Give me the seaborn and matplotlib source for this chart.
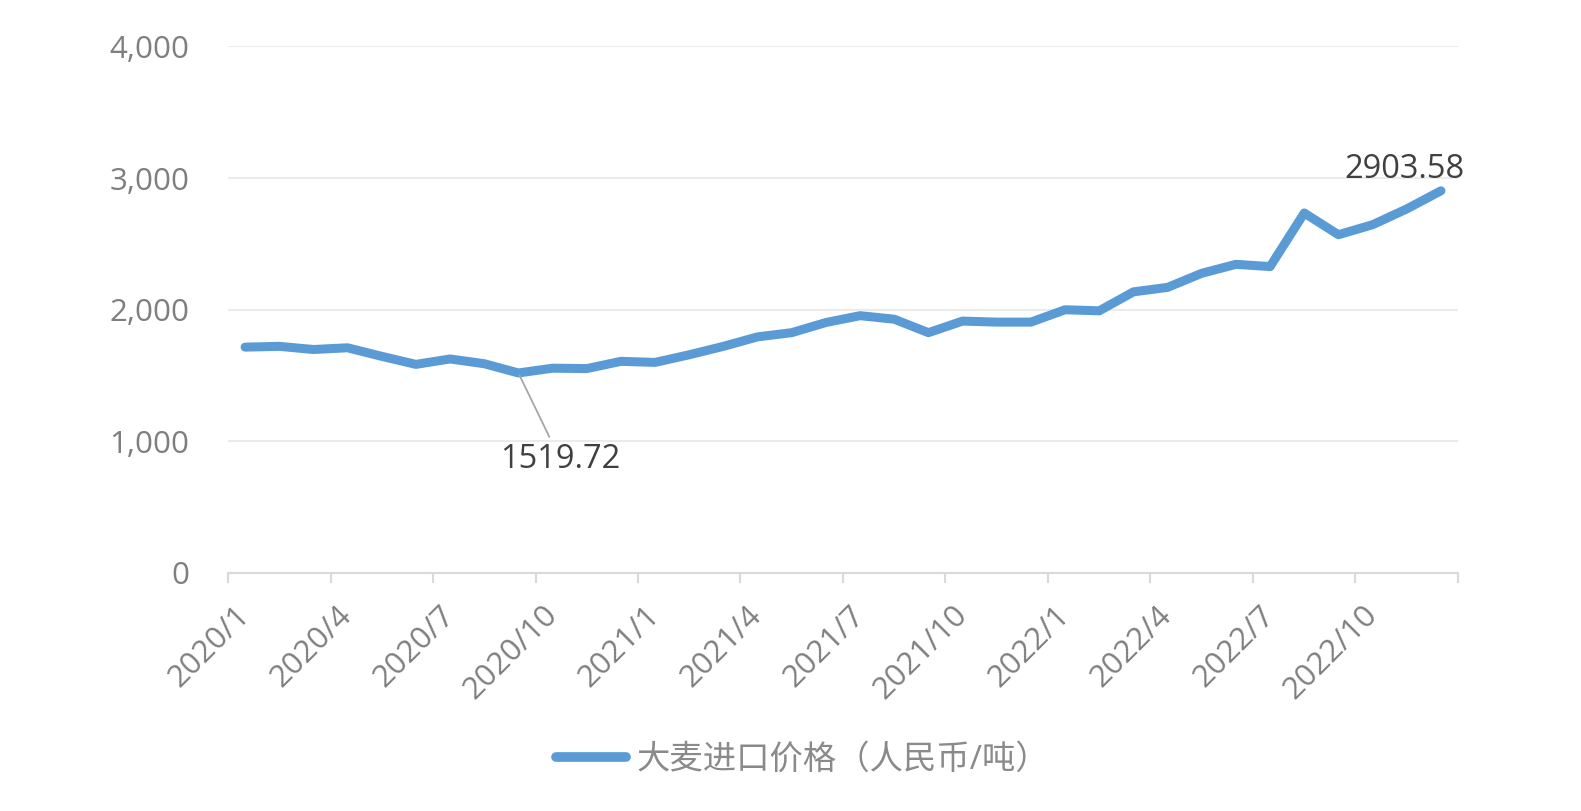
import numpy as np
import pandas as pd
import matplotlib
matplotlib.use("Agg")
import matplotlib.pyplot as plt
import seaborn as sns
from matplotlib.ticker import FixedLocator, FuncFormatter

months = [f"{y}/{m}" for y in (2020, 2021, 2022) for m in range(1, 13)]
prices = [1716, 1722, 1698, 1711, 1646, 1585, 1626, 1590, 1519.72, 1556, 1553, 1608,
          1600, 1658, 1722, 1794, 1826, 1903, 1955, 1928, 1826, 1914, 1906, 1906,
          2000, 1992, 2136, 2170, 2277, 2345, 2328, 2735, 2570, 2646, 2766, 2903.58]
series_name = "大麦进口价格（人民币/吨）"
y_ticks = [0, 1000, 2000, 3000, 4000]

sns.set_theme(style="white")
plt.rcParams['font.family'] = ['Open Sans', 'Noto Sans CJK SC', 'DejaVu Sans']

df = pd.DataFrame({"idx": np.arange(len(months)), "price": prices, "series": series_name})

W, H = 1581, 811
fig = plt.figure(figsize=(W / 100, H / 100), dpi=100)
ax = fig.add_axes([228 / W, 1 - 573 / H, (1458 - 228) / W, (573 - 46.5) / H])

sns.lineplot(data=df, x="idx", y="price", ax=ax, color="#5B9BD5", linewidth=6.5,
             solid_capstyle="round", solid_joinstyle="round", label=series_name)

ax.set_xlim(-0.5, len(months) - 0.5)
ax.set_ylim(0, 4000)
ax.set_xlabel("")
ax.set_ylabel("")

ax.yaxis.set_major_locator(FixedLocator(y_ticks))
ax.yaxis.set_major_formatter(FuncFormatter(lambda v, p: f"{int(v):,}"))
ax.grid(axis="y", color="#EBEBEB", linewidth=1.5)
ax.tick_params(axis="y", length=0, pad=28, labelsize=22.5, labelcolor="#7F7F7F")

major = list(range(0, len(months), 3))
ax.set_xticks(major)
ax.set_xticklabels([months[i] for i in major], rotation=45, ha="right",
                   rotation_mode="anchor", va="center")
ax.set_xticks(np.arange(-0.5, len(months), 3).tolist() + [len(months) - 0.5], minor=True)
ax.tick_params(axis="x", which="major", length=0, pad=27, labelsize=22.5, labelcolor="#7F7F7F")
ax.tick_params(axis="x", which="minor", length=7, width=1.5, color="#D9D9D9", bottom=True)

for s in ["top", "right", "left"]:
    ax.spines[s].set_visible(False)
ax.spines["bottom"].set_color("#D9D9D9")
ax.spines["bottom"].set_linewidth(1.5)

# annotations
imin = int(np.argmin(prices))
ax.annotate(f"{prices[imin]:.2f}", xy=(imin, prices[imin]), xytext=(30, -62),
            textcoords="offset points", ha="center", va="center", fontsize=23.5,
            color="#404040",
            arrowprops=dict(arrowstyle="-", color="#A6A6A6", lw=1.3, shrinkA=2, shrinkB=2))
ilast = len(prices) - 1
ax.annotate(f"{prices[ilast]:.2f}", xy=(ilast, prices[ilast]), xytext=(-26, 15),
            textcoords="offset points", ha="center", va="center", fontsize=23.5,
            color="#404040")

leg = ax.legend(loc="center", bbox_to_anchor=(0.5076, 1 - 760 / H), bbox_transform=fig.transFigure,
                frameon=False, fontsize=24, handlelength=2.1, handletextpad=0.3)
for t in leg.get_texts():
    t.set_color("#8A8A8A")
for l in leg.get_lines():
    l.set_linewidth(7)

fig.savefig("out.png", dpi=100)
